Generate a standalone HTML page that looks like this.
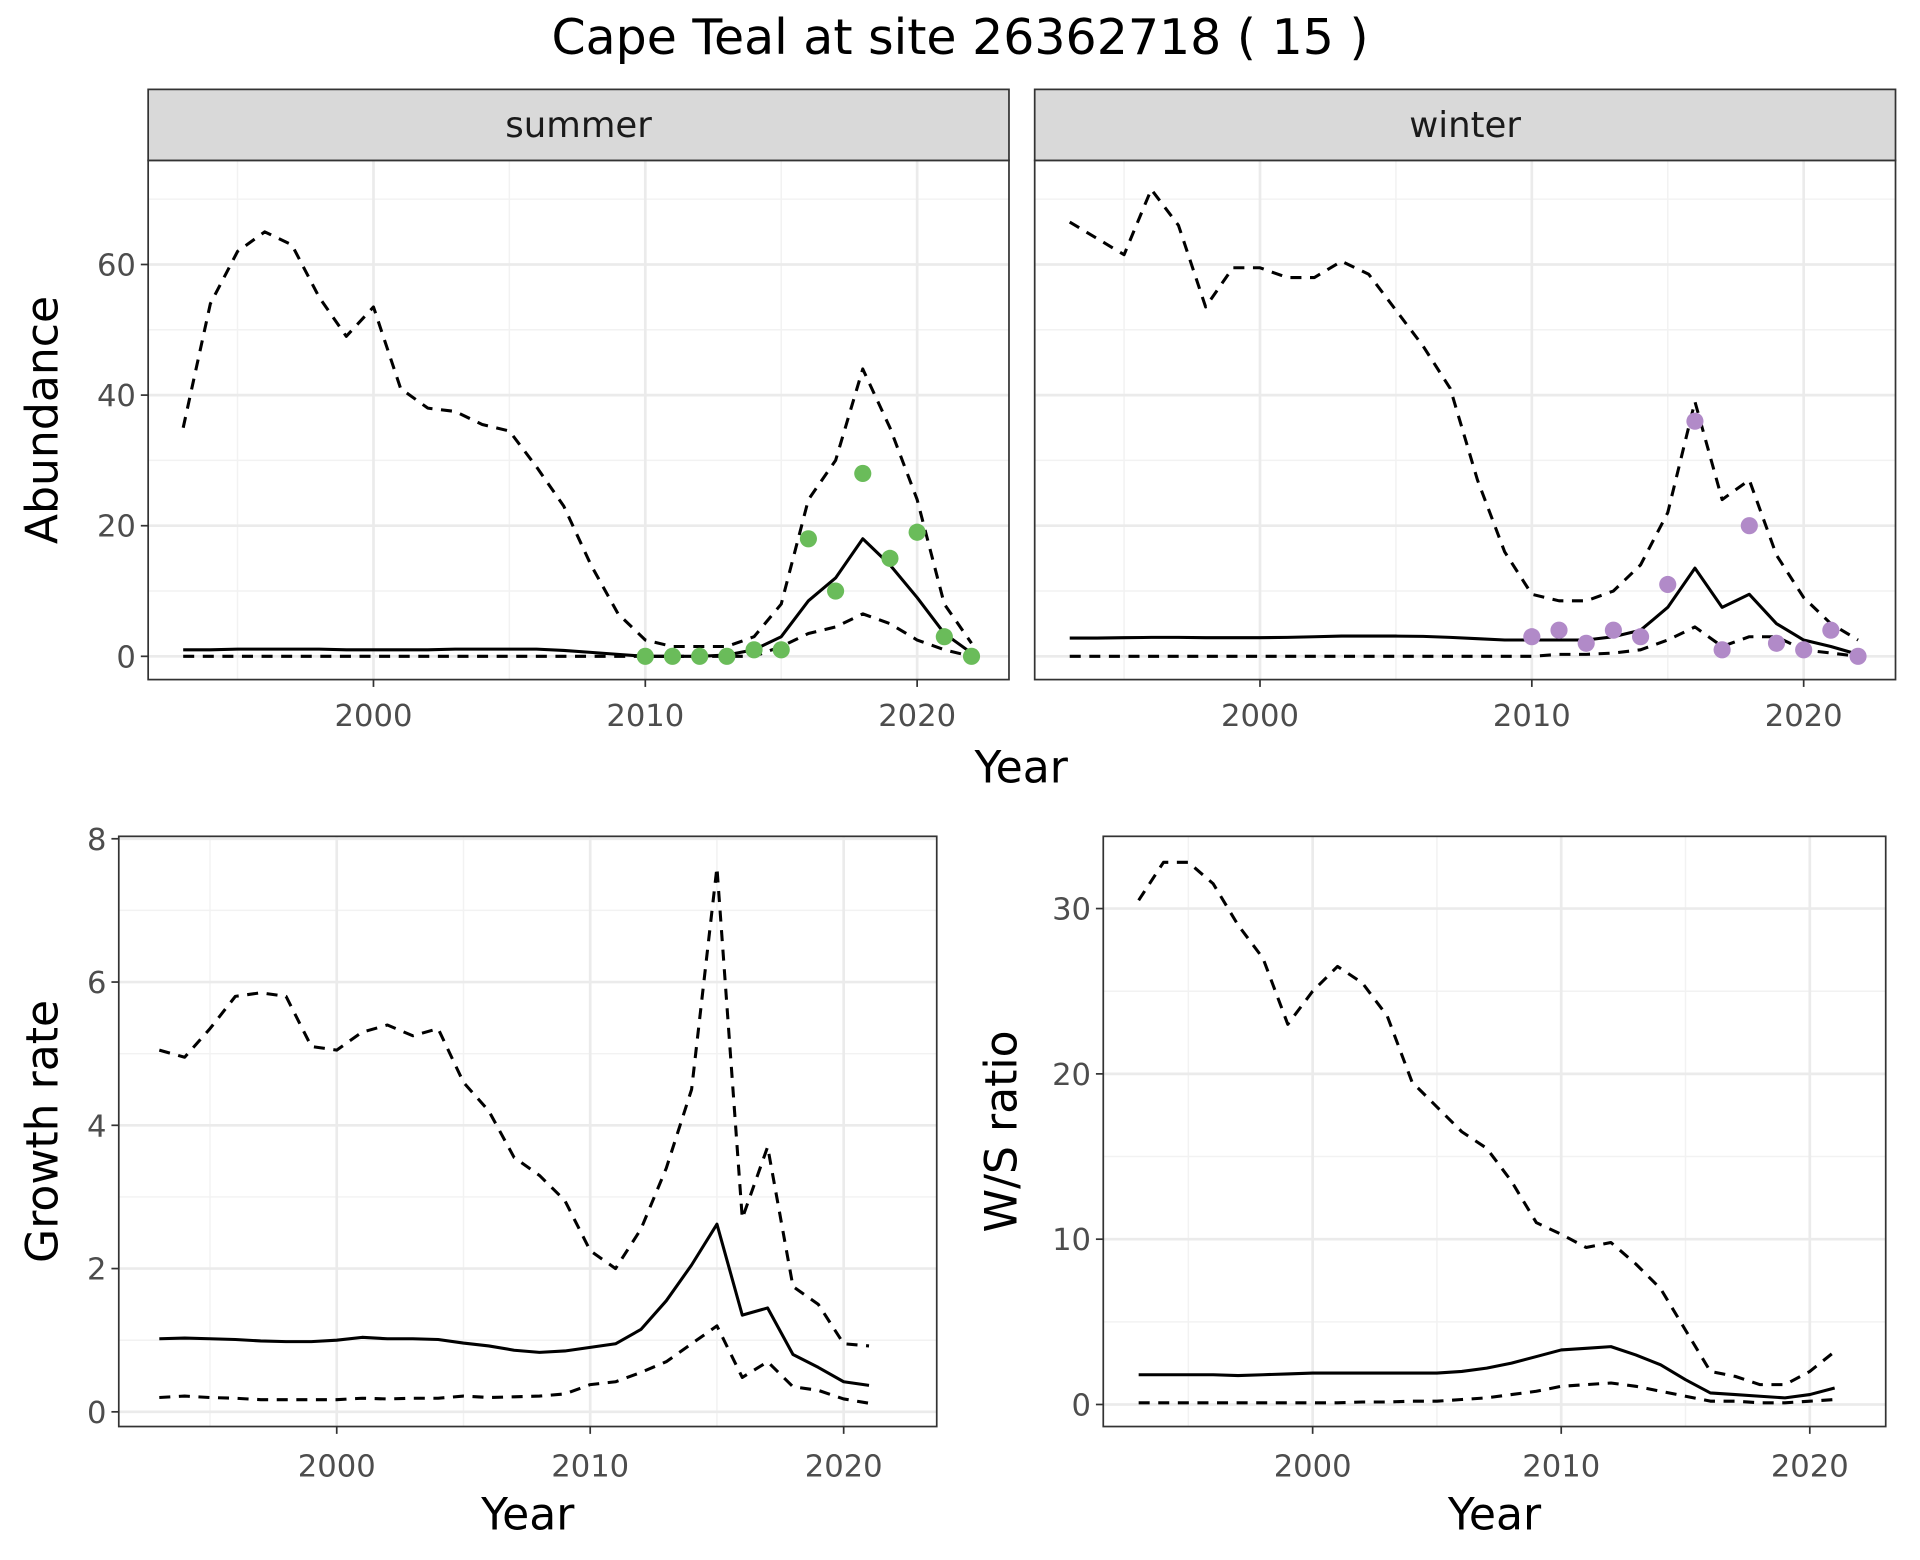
<!DOCTYPE html>
<html><head><meta charset="utf-8"><style>
html,body{margin:0;padding:0;background:#fff;}
svg{display:block;font-family:"DejaVu Sans","Liberation Sans",sans-serif;}
</style></head><body>
<svg id="chart" width="1920" height="1560" viewBox="0 0 1568 1274" xmlns="http://www.w3.org/2000/svg">
<rect width="1568" height="1274" fill="#fff"/>
<text x="784" y="44" font-size="40" text-anchor="middle" fill="#000">Cape Teal at site 26362718 ( 15 )</text>
</svg>
<script>
const yearsAb = [1993,1994,1995,1996,1997,1998,1999,2000,2001,2002,2003,2004,2005,2006,2007,2008,2009,2010,2011,2012,2013,2014,2015,2016,2017,2018,2019,2020,2021,2022];
const summerUpper = [35,54,62,65,63,55,49,53.5,41,38,37.5,35.5,34.5,29,23,14,6.5,2.5,1.5,1.5,1.5,3,8,24,30,44,35,24,8,2];
const summerMean = [1,1,1.1,1.1,1.1,1.1,1,1,1,1,1.1,1.1,1.1,1.1,0.9,0.6,0.3,0,0,0,0.2,1,3,8.5,12,18,14,9,3.5,0.5];
const summerLower = [0,0,0,0,0,0,0,0,0,0,0,0,0,0,0,0,0,0,0,0,0,0,1.5,3.5,4.5,6.5,5,2.5,1,0];
const pointYears = [2010,2011,2012,2013,2014,2015,2016,2017,2018,2019,2020,2021,2022];
const summerPoints = [0,0,0,0,1,1,18,10,28,15,19,3,0];
const winterUpper = [66.5,64,61.5,71.5,66,53.5,59.5,59.5,58,58,60.5,58.5,53,47.5,41,27,16,9.5,8.5,8.5,10,14,22,39,24,27,15.5,9,5,2.5];
const winterMean = [2.8,2.8,2.85,2.9,2.9,2.85,2.85,2.85,2.9,3,3.1,3.1,3.1,3.05,2.9,2.7,2.5,2.5,2.5,2.5,3,4,7.5,13.5,7.5,9.5,5,2.5,1.5,0.3];
const winterLower = [0,0,0,0,0,0,0,0,0,0,0,0,0,0,0,0,0,0,0.3,0.3,0.5,1,2.5,4.5,1.5,3,3,1,0.5,0];
const winterPoints = [3,4,2,4,3,11,36,1,20,2,1,4,0];
const yearsGr = [1993,1994,1995,1996,1997,1998,1999,2000,2001,2002,2003,2004,2005,2006,2007,2008,2009,2010,2011,2012,2013,2014,2015,2016,2017,2018,2019,2020,2021];
const growthUpper = [5.05,4.95,5.35,5.8,5.85,5.8,5.1,5.05,5.3,5.4,5.25,5.35,4.6,4.2,3.55,3.3,2.95,2.25,2.0,2.55,3.4,4.5,7.6,2.7,3.7,1.75,1.5,0.95,0.92];
const growthMean = [1.02,1.03,1.02,1.01,0.99,0.98,0.98,1.0,1.04,1.02,1.02,1.01,0.96,0.92,0.86,0.83,0.85,0.9,0.95,1.15,1.55,2.05,2.62,1.35,1.45,0.8,0.62,0.42,0.37];
const growthLower = [0.2,0.22,0.2,0.19,0.17,0.17,0.17,0.17,0.19,0.18,0.19,0.19,0.22,0.2,0.21,0.22,0.25,0.38,0.42,0.55,0.7,0.95,1.2,0.48,0.7,0.35,0.3,0.18,0.12];
const ratioUpper = [30.5,32.8,32.8,31.5,29,27,23,25,26.5,25.5,23.5,19.5,18,16.5,15.5,13.5,11,10.3,9.5,9.8,8.5,7,4.5,2,1.7,1.2,1.2,2,3.2];
const ratioMean = [1.8,1.8,1.8,1.8,1.75,1.8,1.85,1.9,1.9,1.9,1.9,1.9,1.9,2,2.2,2.5,2.9,3.3,3.4,3.5,3,2.4,1.5,0.7,0.6,0.5,0.4,0.6,1];
const ratioLower = [0.1,0.1,0.1,0.1,0.1,0.1,0.1,0.1,0.1,0.15,0.15,0.2,0.2,0.3,0.4,0.6,0.8,1.1,1.2,1.3,1.1,0.8,0.5,0.2,0.2,0.1,0.1,0.2,0.3];
const xTicks = [2000,2010,2020];
const xMinor = [1995,2005,2015];
const abTicks = [0,20,40,60];
const abMinor = [10,30,50,70];
const grTicks = [0,2,4,6,8];
const grMinor = [1,3,5,7];
const ratioTicks = [0,10,20,30];
const ratioMinor = [5,15,25];

const NS = "http://www.w3.org/2000/svg";
const svg = document.getElementById('chart');
function mk(tag, attrs, parent){
  const e = document.createElementNS(NS, tag);
  for (const k in attrs) e.setAttribute(k, attrs[k]);
  (parent||svg).appendChild(e);
  return e;
}
function linScale(d0,d1,r0,r1){ return v => r0 + (v-d0)/(d1-d0)*(r1-r0); }

function panel(o){
  const g = mk('g', {});
  
  
  const sx = linScale(2000, 2020, o.x2000, o.x2020);
  const sy = linScale(o.yv0, o.yv1, o.yp0, o.yp1);
  o.xMinor.forEach(v => { const l = mk('line',{x1:sx(v),x2:sx(v),y1:o.top,y2:o.bottom,stroke:'#f2f2f2','stroke-width':1.2},g);
      });
  o.yMinor.forEach(v => { if (sy(v) < o.top) return; const l = mk('line',{x1:o.left,x2:o.right,y1:sy(v),y2:sy(v),stroke:'#f2f2f2','stroke-width':1.2},g);
      });
  o.xTicks.forEach(v => { const l = mk('line',{x1:sx(v),x2:sx(v),y1:o.top,y2:o.bottom,stroke:'#ebebeb','stroke-width':2.2},g);
      });
  o.yTicks.forEach(v => { const l = mk('line',{x1:o.left,x2:o.right,y1:sy(v),y2:sy(v),stroke:'#ebebeb','stroke-width':2.2},g);
      });
  o.series.forEach(s => {
    const d = s.vals.map((v,i) => (i?'L':'M') + sx(s.years[i]).toFixed(2) + ',' + sy(v).toFixed(2)).join('');
    const p = mk('path',{d:d,fill:'none',stroke:'#000','stroke-width':2.5,'stroke-dasharray':s.dash?'9,7':'none','stroke-linejoin':'round'},g);
    
    
  });
  if (o.points) o.points.vals.forEach((v,i) => {
    const c = mk('circle',{cx:sx(o.points.years[i]),cy:sy(v),r:7,fill:o.points.color},g);
    
    
  });
  const b = mk('rect',{x:o.left,y:o.top,width:o.right-o.left,height:o.bottom-o.top,fill:'none',stroke:'#333','stroke-width':1.4},g);
   
  o.xTicks.forEach(v => {
    const t = mk('line',{x1:sx(v),x2:sx(v),y1:o.bottom,y2:o.bottom+6,stroke:'#333','stroke-width':1.4},g);
     
    const tx = mk('text',{x:sx(v),y:o.bottom+o.tickDy,'font-size':25,'text-anchor':'middle',fill:'#4d4d4d'},g);
    tx.textContent = v;
     
  });
  if (o.showY) o.yTicks.forEach(v => {
    const t = mk('line',{x1:o.left-6,x2:o.left,y1:sy(v),y2:sy(v),stroke:'#333','stroke-width':1.4},g);
     
    const tx = mk('text',{x:o.left-10,y:sy(v)+9,'font-size':25,'text-anchor':'end',fill:'#4d4d4d'},g);
    tx.textContent = v;
     
  });
  if (o.strip) {
    const r = mk('rect',{x:o.left,y:o.top-58,width:o.right-o.left,height:58,fill:'#d9d9d9',stroke:'#333','stroke-width':1.4},g);
     
    const t = mk('text',{x:(o.left+o.right)/2,y:o.top-19,'font-size':29,'text-anchor':'middle',fill:'#1a1a1a'},g);
    t.textContent = o.strip;
     
  }
  if (o.xTitle) {
    const t = mk('text',{x:(o.left+o.right)/2,y:o.bottom+84,'font-size':36,'text-anchor':'middle',fill:'#000'},g);
    t.textContent = 'Year';
     
  }
  if (o.yTitle) {
    const cy=(o.top+o.bottom)/2;
    const t = mk('text',{x:o.yTitleX,y:cy,'font-size':36,'text-anchor':'middle',fill:'#000',transform:`rotate(-90 ${o.yTitleX} ${cy})`},g);
    t.textContent = o.yTitle;
     
  }
}

panel({name:'summer-panel',left:121,right:824,top:131,bottom:555,x2000:305,x2020:749,yv0:0,yv1:60,yp0:536,yp1:216,tickDy:38,
  xTicks,xMinor,yTicks:abTicks,yMinor:abMinor,showY:true,strip:'summer',yTitle:'Abundance',yTitleX:47,
  series:[{name:'summer-upper-ci',years:yearsAb,vals:summerUpper,dash:true},{name:'summer-lower-ci',years:yearsAb,vals:summerLower,dash:true},{name:'summer-mean',years:yearsAb,vals:summerMean,dash:false}],
  points:{years:pointYears,vals:summerPoints,color:'#6abc5a'}});
panel({name:'winter-panel',left:845,right:1548,top:131,bottom:555,x2000:1029,x2020:1473,yv0:0,yv1:60,yp0:536,yp1:216,tickDy:38,
  xTicks,xMinor,yTicks:abTicks,yMinor:abMinor,showY:false,strip:'winter',
  series:[{name:'winter-upper-ci',years:yearsAb,vals:winterUpper,dash:true},{name:'winter-lower-ci',years:yearsAb,vals:winterLower,dash:true},{name:'winter-mean',years:yearsAb,vals:winterMean,dash:false}],
  points:{years:pointYears,vals:winterPoints,color:'#b18ac8'}});
const yt = mk('text',{x:834,y:639,'font-size':36,'text-anchor':'middle',fill:'#000'});
yt.textContent='Year';
 

panel({name:'growth-rate-panel',left:97,right:765,top:683,bottom:1165,x2000:275,x2020:689,yv0:0,yv1:8,yp0:1153,yp1:685,tickDy:41,
  xTicks,xMinor,yTicks:grTicks,yMinor:grMinor,showY:true,xTitle:true,yTitle:'Growth rate',yTitleX:47,
  series:[{name:'growth-upper-ci',years:yearsGr,vals:growthUpper,dash:true},{name:'growth-lower-ci',years:yearsGr,vals:growthLower,dash:true},{name:'growth-mean',years:yearsGr,vals:growthMean,dash:false}]});
panel({name:'ws-ratio-panel',left:901,right:1540,top:683,bottom:1165,x2000:1072,x2020:1478,yv0:0,yv1:30,yp0:1147,yp1:742,tickDy:41,
  xTicks,xMinor,yTicks:ratioTicks,yMinor:ratioMinor,showY:true,xTitle:true,yTitle:'W/S ratio',yTitleX:830,
  series:[{name:'ratio-upper-ci',years:yearsGr,vals:ratioUpper,dash:true},{name:'ratio-lower-ci',years:yearsGr,vals:ratioLower,dash:true},{name:'ratio-mean',years:yearsGr,vals:ratioMean,dash:false}]});
</script>
</body></html>
